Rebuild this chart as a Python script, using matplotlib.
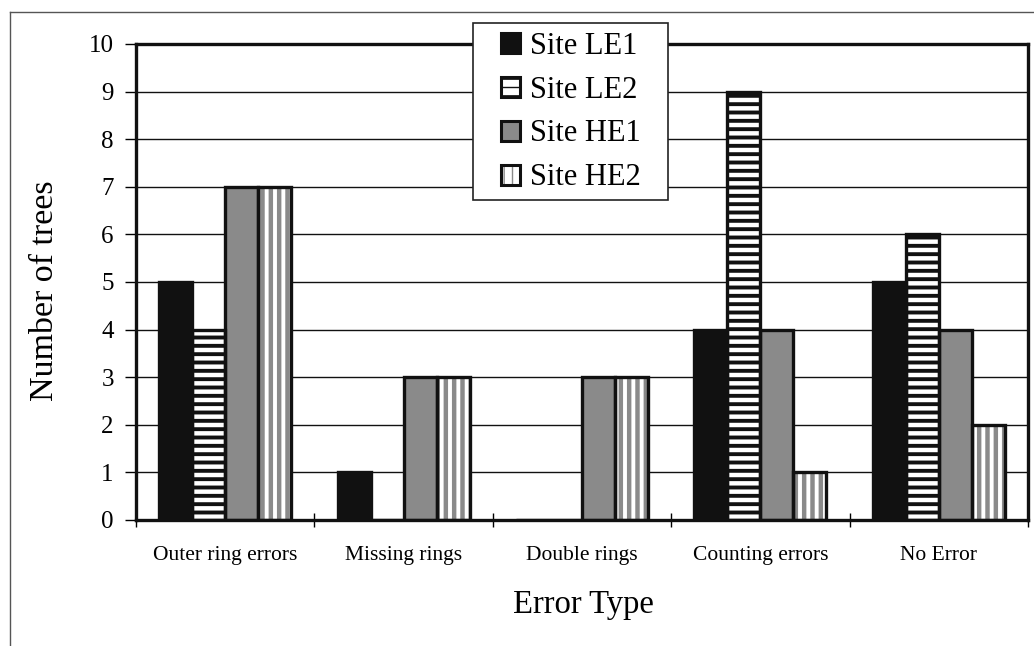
import matplotlib
matplotlib.use("Agg")
import matplotlib.pyplot as plt
import numpy as np
from matplotlib.patches import Patch, Rectangle
from matplotlib.lines import Line2D

categories = ["Outer ring errors", "Missing rings", "Double rings", "Counting errors", "No Error"]
site_le1 = [5, 1, 0, 4, 5]
site_le2 = [4, 0, 0, 9, 6]
site_he1 = [7, 3, 3, 4, 4]
site_he2 = [7, 3, 3, 1, 2]
labels = ["Site LE1", "Site LE2", "Site HE1", "Site HE2"]

plt.rcParams["font.family"] = ["Liberation Serif", "DejaVu Serif"]

W, H = 1034, 646
fig = plt.figure(figsize=(W / 100, H / 100), dpi=100)
ax = fig.add_axes([136 / W, 1 - 520 / H, (1028 - 136) / W, (520 - 44) / H])

x = np.arange(len(categories)) + 0.5
w = 0.185
gray = "#8a8a8a"

# style per series: (facecolor, hatch, hatch colour, hatch linewidth)
styles = [
    ("#111111", None, "#111111", 1.0),
    ("white", "--", "#111111", 2.8),
    (gray, None, gray, 1.0),
    ("white", "||", gray, 3.2),
]
series = [site_le1, site_le2, site_he1, site_he2]

for i, (vals, (fc, hatch, hc, hlw)) in enumerate(zip(series, styles)):
    pos = x + (i - 1.5) * w
    with plt.rc_context({"hatch.linewidth": hlw}):
        fill = ax.bar(pos, vals, width=w, color=fc, edgecolor=hc, hatch=hatch, linewidth=0, zorder=2)
        for p in fill:
            if hasattr(p, "set_hatch_linewidth"):
                p.set_hatch_linewidth(hlw)
    ax.bar(pos, vals, width=w, fill=False, edgecolor="#111111", linewidth=2.4, zorder=3)

ax.set_xlim(0, 5)
ax.set_ylim(0, 10)
ax.set_yticks(range(0, 11))
ax.tick_params(axis="y", direction="out", length=8, width=1, labelsize=18, pad=8)
ax.set_xticks(range(0, 6))
ax.set_xticklabels([])
ax.set_xticks(x, minor=True)
ax.set_xticklabels(categories, minor=True)
ax.tick_params(axis="x", which="major", direction="inout", length=10, width=1)
ax.tick_params(axis="x", which="minor", length=0, labelsize=15.5, pad=19)

ax.grid(axis="y", color="#111111", linewidth=1.0, zorder=1)
ax.set_axisbelow(True)
for s in ax.spines.values():
    s.set_linewidth(2.4)
    s.set_color("#111111")
    s.set_zorder(4)

ax.set_ylabel("Number of trees", fontsize=24.5)
ax.yaxis.set_label_coords((60 - 136) / 892, (520 - 291) / 476)
ax.set_xlabel("Error Type", fontsize=23.5)
ax.xaxis.set_label_coords((583 - 136) / 892, -(590 - 520) / 476)

# outer frame of the scanned figure
fig.add_artist(Line2D([10 / W, 10 / W], [0, 1 - 12 / H], transform=fig.transFigure, color="#555555", lw=1))
fig.add_artist(Line2D([10 / W, 1], [1 - 12 / H, 1 - 12 / H], transform=fig.transFigure, color="#555555", lw=1))

# legend box
fig.add_artist(Rectangle((473 / W, 1 - 200 / H), (668 - 473) / W, (200 - 23) / H,
                         transform=fig.transFigure, facecolor="white", edgecolor="#222222",
                         lw=1.2, zorder=5))
handles = []
for fc, hatch, hc, hlw in styles:
    with plt.rc_context({"hatch.linewidth": hlw}):
        f = Patch(facecolor=fc, edgecolor=hc, hatch=hatch, linewidth=0)
    o = Patch(fill=False, edgecolor="#111111", linewidth=2.2)
    handles.append((f, o))
leg = fig.legend(handles, labels, loc="center", bbox_to_anchor=((473 + 668) / 2 / W, 1 - 112 / H),
                 frameon=False, fontsize=22, handlelength=0.65, handleheight=0.65,
                 handletextpad=0.3, labelspacing=0.49, borderpad=0)
leg.set_zorder(6)

fig.savefig("out.png", dpi=100)
